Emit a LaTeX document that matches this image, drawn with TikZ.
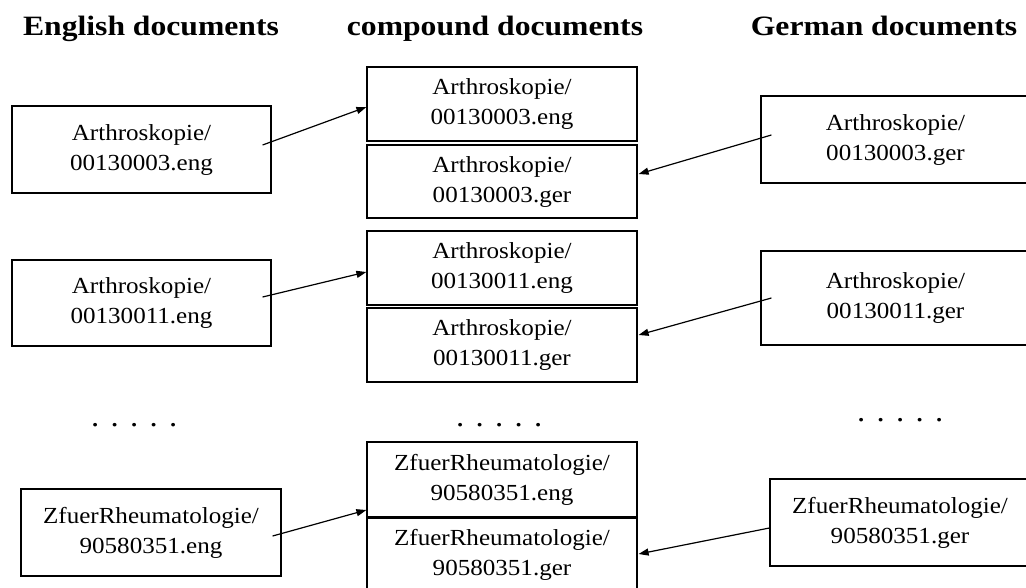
\documentclass[tikz,border=0pt]{standalone}
\usepackage{fontspec}
\setmainfont{Liberation Serif}
\newfontfamily\boxfont{Liberation Serif}[FakeStretch=1.09]
\newfontfamily\headfont{Liberation Serif Bold}[FakeStretch=1.13]
\usetikzlibrary{arrows.meta,calc}
\newcommand\myfivedots{.\hspace{11.3pt}.\hspace{11.3pt}.\hspace{11.3pt}.\hspace{11.3pt}.}
\tikzset{
  docbox/.style={draw, line width=1.2pt, inner sep=0pt, align=center,
    font=\boxfont\fontsize{23}{30}\selectfont},
  heading/.style={anchor=base, inner sep=0pt, font=\headfont\fontsize{28}{32}\selectfont},
  dotrow/.style={anchor=base west, inner sep=0pt, font=\boxfont\fontsize{30}{32}\selectfont},
  link/.style={line width=1.2pt, -{Triangle[length=10pt,width=7pt]}}
}
\begin{document}
\begin{tikzpicture}[x=1pt,y=-1pt]
\useasboundingbox (0,0) rectangle (1026,587);
\clip (0,0) rectangle (1026,587);
\fill[white] (0,0) rectangle (1026,587);

% headings
\node[heading] (hE) at (151,35) {English documents};
\node[heading] (hC) at (495,35) {compound documents};
\node[heading] (hG) at (884,35) {German documents};

% English documents
\node[docbox, minimum width=259pt, minimum height=87pt] (L1) at (141.5,149.5) {Arthroskopie/\\00130003.eng};
\node[docbox, minimum width=259pt, minimum height=86pt] (L2) at (141.5,303) {Arthroskopie/\\00130011.eng};
\node[docbox, minimum width=260pt, minimum height=87pt] (L3) at (151,532.5) {ZfuerRheumatologie/\\90580351.eng};

% compound documents
\node[docbox, minimum width=270pt, minimum height=74pt] (M1a) at (502,104) {Arthroskopie/\\00130003.eng};
\node[docbox, minimum width=270pt, minimum height=73pt] (M1b) at (502,181.5) {Arthroskopie/\\00130003.ger};
\node[docbox, minimum width=270pt, minimum height=74pt] (M2a) at (502,268) {Arthroskopie/\\00130011.eng};
\node[docbox, minimum width=270pt, minimum height=74pt] (M2b) at (502,345) {Arthroskopie/\\00130011.ger};
\node[docbox, minimum width=270pt, minimum height=75pt] (M3a) at (502,479.5) {ZfuerRheumatologie/\\90580351.eng};
\node[docbox, minimum width=270pt, minimum height=75pt] (M3b) at (502,554.5) {ZfuerRheumatologie/\\90580351.ger};
\draw[line width=2.2pt] (M3a.south west) -- (M3a.south east);

% German documents
\node[docbox, minimum width=269pt, minimum height=87pt] (R1) at (895.5,139.5) {Arthroskopie/\\00130003.ger};
\node[docbox, minimum width=269pt, minimum height=94pt] (R2) at (895.5,298) {Arthroskopie/\\00130011.ger};
\node[docbox, minimum width=260pt, minimum height=87pt] (R3) at (900,522.5) {ZfuerRheumatologie/\\90580351.ger};

% dots
\node[dotrow] (d1) at (91,426) {\myfivedots};
\node[dotrow] (d2) at (456,426) {\myfivedots};
\node[dotrow] (d3) at (857,421) {\myfivedots};

% connectors
\draw[link] ($(L1.east)+(-9,-4.5)$) -- ($(M1a.west)+(0,3)$);
\draw[link] ($(R1.west)+(11,-4.5)$) -- ($(M1b.east)+(1,-7.5)$);
\draw[link] ($(L2.east)+(-9,-6)$) -- ($(M2a.west)+(0,4)$);
\draw[link] ($(R2.west)+(11,0)$) -- ($(M2b.east)+(1,-10)$);
\draw[link] ($(L3.east)+(-9,3.5)$) -- ($(M3a.west)+(0,30.5)$);
\draw[link] ($(R3.west)+(0,5.5)$) -- ($(M3b.east)+(1,-0.5)$);
\end{tikzpicture}
\end{document}
